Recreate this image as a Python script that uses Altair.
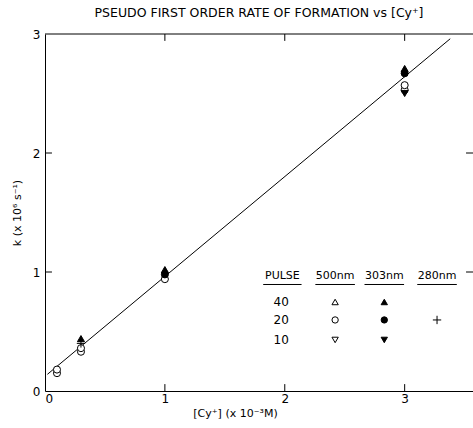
import altair as alt
import pandas as pd

title_text = "PSEUDO FIRST ORDER RATE OF FORMATION vs [Cy⁺]"
x_title = "[Cy⁺] (x 10⁻³M)"
y_title = "k (x 10⁶ s⁻¹)"

x_domain = [0, 3.57]
y_domain = [0, 3]
x_ticks = [0, 1, 2, 3]
y_ticks = [0, 1, 2, 3]

# data series: concentration (x 10^-3 M) and k (x 10^6 s^-1)
s500_20_x = [0.1, 0.1, 0.3, 0.3, 1.0, 3.0, 3.0]
s500_20_k = [0.15, 0.18, 0.33, 0.36, 0.94, 2.53, 2.57]
s303_40_x = [0.3, 1.0, 3.0]
s303_40_k = [0.44, 1.02, 2.71]
s303_20_x = [1.0, 3.0]
s303_20_k = [0.98, 2.67]
s303_10_x = [3.0]
s303_10_k = [2.50]
s280_20_x = [0.3]
s280_20_k = [0.40]

fit_x = [0.02, 3.38]
fit_k = [0.14, 2.96]

# legend table content
legend_headers = ["PULSE", "500nm", "303nm", "280nm"]
legend_pulses = ["40", "20", "10"]

FONT = "DejaVu Sans"
shape_map = {"40": "triangle-up", "20": "circle", "10": "triangle-down"}
fill_map = {"500nm": "white", "303nm": "black"}
PLUS = "M-1,0H1M0,-1V1"

rows = []
for xs_, ks_, wl, p in [
    (s500_20_x, s500_20_k, "500nm", "20"),
    (s303_40_x, s303_40_k, "303nm", "40"),
    (s303_20_x, s303_20_k, "303nm", "20"),
    (s303_10_x, s303_10_k, "303nm", "10"),
]:
    for a, b in zip(xs_, ks_):
        rows.append({"x": a, "k": b, "wl": wl, "pulse": p})
pts = pd.DataFrame(rows)
plus_df = pd.DataFrame({"x": s280_20_x, "k": s280_20_k})
fit_df = pd.DataFrame({"x": fit_x, "k": fit_k})

# legend layout (in data units)
hdr_x = [1.98, 2.42, 2.83, 3.27]
hdr_half = [0.16, 0.165, 0.165, 0.165]
hdr_y = 0.965
ul_y = 0.895
row_y = [0.748, 0.597, 0.429]
hdr_df = pd.DataFrame({"x": hdr_x, "k": [hdr_y] * 4, "t": legend_headers})
ul_df = pd.DataFrame({"x": [a - h for a, h in zip(hdr_x, hdr_half)],
                      "x2": [a + h for a, h in zip(hdr_x, hdr_half)],
                      "k": [ul_y] * 4})
rowlab_df = pd.DataFrame({"x": [1.97] * 3, "k": row_y, "t": legend_pulses})
leg_rows = []
for p, yy in zip(legend_pulses, row_y):
    leg_rows.append({"x": hdr_x[1], "k": yy, "wl": "500nm", "pulse": p})
    leg_rows.append({"x": hdr_x[2], "k": yy, "wl": "303nm", "pulse": p})
leg_pts = pd.DataFrame(leg_rows)
leg_plus = pd.DataFrame({"x": [hdr_x[3]], "k": [row_y[1]]})

# frame: top border + inward ticks
tl = 0.058
frame_rows = [{"x1": 0, "x2": x_domain[1], "y1": 3, "y2": 3}]
for t in x_ticks[1:]:
    frame_rows.append({"x1": t, "x2": t, "y1": 0, "y2": tl})
    frame_rows.append({"x1": t, "x2": t, "y1": 3, "y2": 3 - tl})
for t in y_ticks[1:3]:
    frame_rows.append({"x1": 0, "x2": tl, "y1": t, "y2": t})
    frame_rows.append({"x1": x_domain[1], "x2": x_domain[1] - tl, "y1": t, "y2": t})
frame_df = pd.DataFrame(frame_rows)

xs = alt.Scale(domain=x_domain, nice=False, zero=False)
ys = alt.Scale(domain=y_domain, nice=False, zero=False)

X = alt.X("x:Q", scale=xs,
          axis=alt.Axis(values=x_ticks, title=x_title, titleX=190, format="d",
                        titlePadding=3, labelPadding=2))
Y = alt.Y("k:Q", scale=ys,
          axis=alt.Axis(values=y_ticks, title=y_title, format="d",
                        titlePadding=10, labelPadding=5))

fit = alt.Chart(fit_df).mark_line(color="black", strokeWidth=1).encode(x=X, y=Y)

shape_enc = alt.Shape("pulse:N", scale=alt.Scale(domain=list(shape_map.keys()),
                                                  range=list(shape_map.values())), legend=None)
fill_enc = alt.Fill("wl:N", scale=alt.Scale(domain=list(fill_map.keys()),
                                             range=list(fill_map.values())), legend=None)

points = alt.Chart(pts).mark_point(filled=True, stroke="black", strokeWidth=1, size=50, opacity=1).encode(
    x=alt.X("x:Q", scale=xs), y=alt.Y("k:Q", scale=ys), shape=shape_enc, fill=fill_enc)
plus = alt.Chart(plus_df).mark_point(shape=PLUS, size=70, stroke="black", strokeWidth=1, filled=False, opacity=1).encode(
    x=alt.X("x:Q", scale=xs), y=alt.Y("k:Q", scale=ys))

frame = alt.Chart(frame_df).mark_rule(color="black", strokeWidth=1).encode(
    x=alt.X("x1:Q", scale=xs), x2="x2:Q", y=alt.Y("y1:Q", scale=ys), y2="y2:Q")

hdr = alt.Chart(hdr_df).mark_text(font=FONT, fontSize=11, color="black", baseline="middle").encode(
    x=alt.X("x:Q", scale=xs), y=alt.Y("k:Q", scale=ys), text="t:N")
ul = alt.Chart(ul_df).mark_rule(color="black", strokeWidth=1).encode(
    x=alt.X("x:Q", scale=xs), x2="x2:Q", y=alt.Y("k:Q", scale=ys))
rowlab = alt.Chart(rowlab_df).mark_text(font=FONT, fontSize=12, color="black", baseline="middle").encode(
    x=alt.X("x:Q", scale=xs), y=alt.Y("k:Q", scale=ys), text="t:N")
lpts = alt.Chart(leg_pts).mark_point(filled=True, stroke="black", strokeWidth=1, size=40, opacity=1).encode(
    x=alt.X("x:Q", scale=xs), y=alt.Y("k:Q", scale=ys), shape=shape_enc, fill=fill_enc)
lplus = alt.Chart(leg_plus).mark_point(shape=PLUS, size=70, stroke="black", strokeWidth=1, filled=False, opacity=1).encode(
    x=alt.X("x:Q", scale=xs), y=alt.Y("k:Q", scale=ys))

chart = alt.layer(fit, frame, points, plus, hdr, ul, rowlab, lpts, lplus).properties(
    width=428, height=357,
    autosize=alt.AutoSizeParams(type="none"),
    padding={"left": 45, "top": 34, "right": 0, "bottom": 37},
    title=alt.TitleParams(title_text, font=FONT, fontSize=12.5, fontWeight="normal",
                          color="black", anchor="middle", offset=9),
    background="white",
).configure_view(stroke=None).configure_axis(
    ticks=False, grid=False, domainColor="black", domainWidth=1,
    labelFont=FONT, labelFontSize=12, labelColor="black",
    titleFont=FONT, titleFontSize=11, titleFontWeight="normal", titleColor="black",
)

chart.save("out.html", embed_options={"renderer": "svg", "actions": False})
